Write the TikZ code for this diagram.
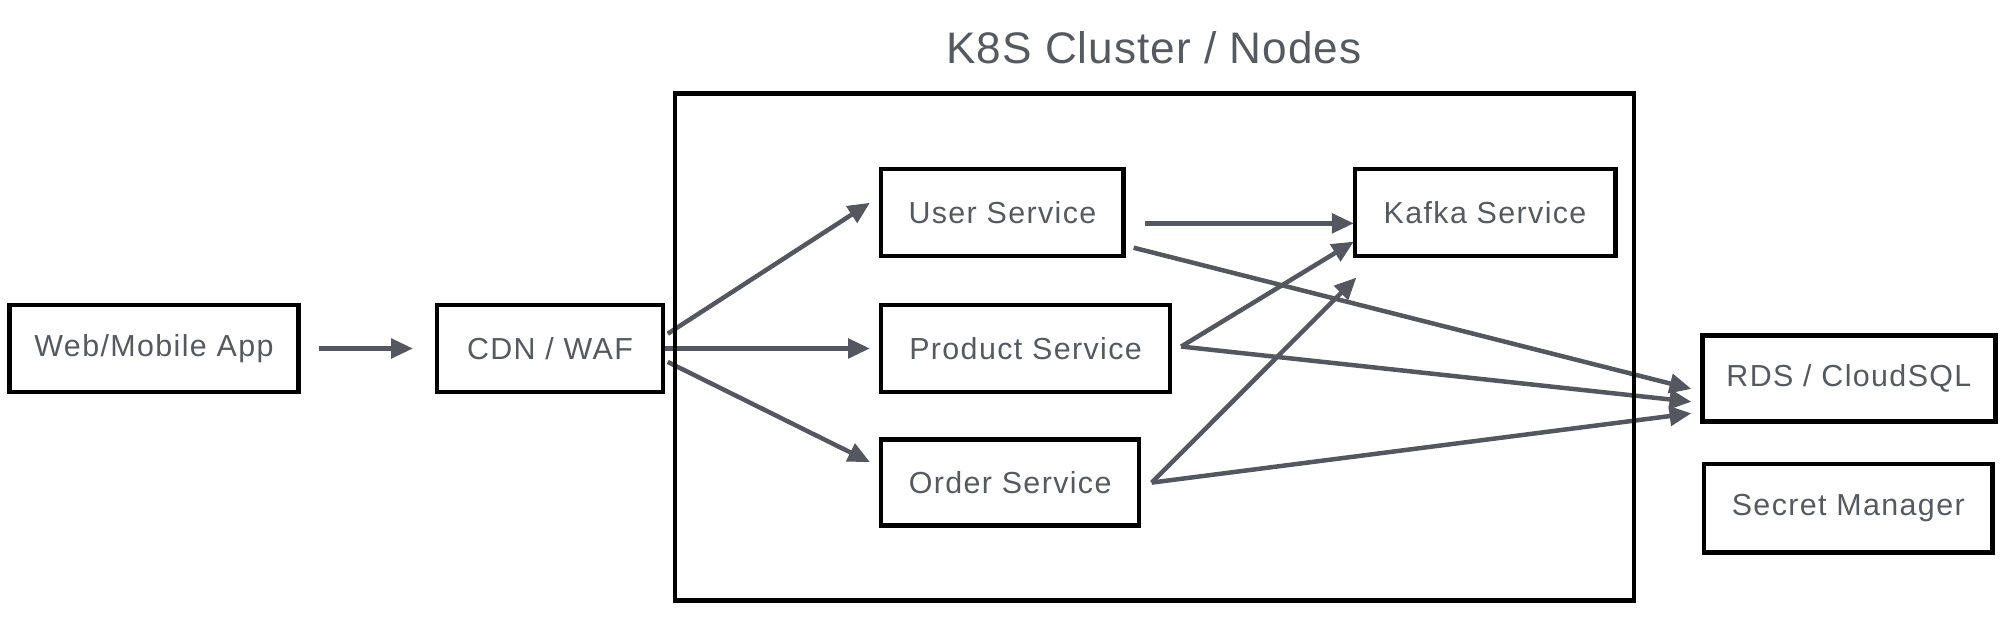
\documentclass[tikz,border=0pt]{standalone}
\usepackage{fontspec}
\setmainfont{Liberation Sans}
\newfontfamily\boxfont{Liberation Sans}[LetterSpace=4.5]
\newfontfamily\headfont{Liberation Sans}[LetterSpace=2.3]
\usetikzlibrary{arrows.meta}

\definecolor{arrowgray}{RGB}{84,87,93}
\definecolor{labelgray}{RGB}{86,89,94}

\begin{document}
\begin{tikzpicture}[x=1pt, y=-1pt,
	svcbox/.style={draw=black, line width=3.5pt, inner sep=0pt, text=labelgray,
		font=\boxfont\fontsize{23.7}{28}\selectfont},
	flow/.style={draw=arrowgray, line width=3.5pt, -{Triangle[length=17pt, width=15pt]}}]
\useasboundingbox (0,0) rectangle (1566,495.5);

% outside the cluster
\node[svcbox, minimum width=225pt, minimum height=68pt] (webapp) at (120,271.5) {Web/Mobile App};
\node[svcbox, minimum width=176pt, minimum height=68pt] (cdn) at (428.5,271.5) {CDN / WAF};
\node[svcbox, minimum width=228pt, minimum height=67pt] (rds) at (1440.5,295) {RDS / CloudSQL};
\node[svcbox, minimum width=225pt, minimum height=69pt] (secret) at (1440,396) {Secret Manager};

% services inside the cluster
\node[svcbox, minimum width=189pt, minimum height=68pt] (user) at (781,165.5) {User Service};
\node[svcbox, minimum width=203pt, minimum height=68pt] (kafka) at (1157,165.5) {Kafka Service};
\node[svcbox, minimum width=225pt, minimum height=68pt] (product) at (799,271.5) {Product Service};
\node[svcbox, minimum width=201pt, minimum height=67pt] (order) at (787,376) {Order Service};

\draw[flow] (webapp.east) -- (cdn.west)  % shortened on both ends
	[shorten <=14pt, shorten >=17pt];
\draw[flow] ([xshift=2pt, yshift=11.5pt]cdn.east) -- ([xshift=-7pt, yshift=7.5pt]user.west);
\draw[flow] (cdn.east) -- ([xshift=-7pt]product.west);
\draw[flow] ([xshift=2pt, yshift=-10.5pt]cdn.east) -- ([xshift=-7pt, yshift=16pt]order.west);

\draw[flow] ([xshift=15pt, yshift=-8.5pt]user.east) -- ([xshift=1pt, yshift=-8.5pt]kafka.west);
\draw[flow] ([xshift=6pt, yshift=-27.5pt]user.east) -- ([xshift=-7pt, yshift=-8pt]rds.west);
\draw[flow] ([xshift=7pt, yshift=1.5pt]product.east) -- ([xshift=1pt, yshift=13pt]kafka.south west);
\draw[flow] ([xshift=7pt, yshift=1.5pt]product.east) -- ([xshift=-7pt, yshift=-18pt]rds.west);
\draw[flow] ([xshift=8pt]order.east) -- ([xshift=3pt, yshift=-15pt]kafka.south west);
\draw[flow] ([xshift=8pt]order.east) -- ([xshift=-7pt, yshift=-27pt]rds.west);

% cluster frame, on top of the arrows
\node[draw=black, line width=3.5pt, minimum width=747pt, minimum height=395pt] (cluster) at (899.5,270.5) {};
\node[text=labelgray, font=\headfont\fontsize{34.4}{40}\selectfont] (title) at (899,37) {K8S Cluster / Nodes};
\end{tikzpicture}
\end{document}
